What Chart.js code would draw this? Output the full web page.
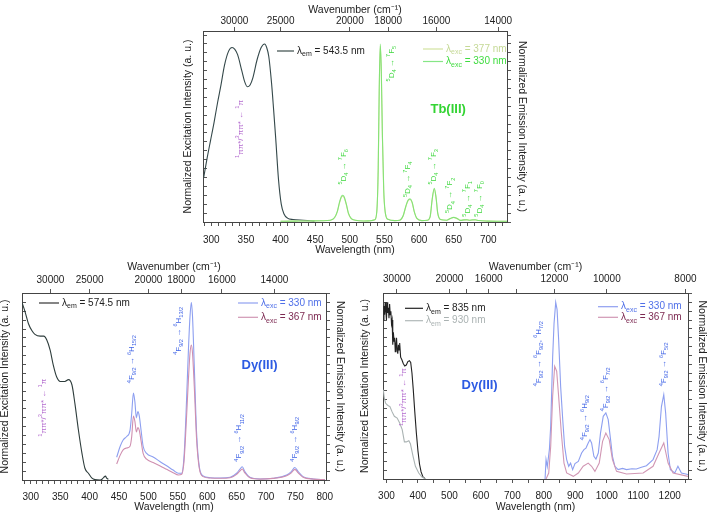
<!DOCTYPE html>
<html>
<head>
<meta charset="utf-8">
<title>Tb(III) / Dy(III) excitation and emission spectra</title>
<script src="https://cdn.jsdelivr.net/npm/chart.js@4.4.1/dist/chart.umd.min.js"></script>
<style>
  html, body { margin: 0; padding: 0; background: #fff; }
  body { position: relative; width: 709px; height: 517px; overflow: hidden; }
  canvas { position: absolute; }
</style>
</head>
<body>
<canvas id="tb-chart" width="360" height="262" style="left:176px;top:0px"></canvas>
<canvas id="dy-vis-chart" width="357" height="259" style="left:-2px;top:258px"></canvas>
<canvas id="dy-nir-chart" width="351" height="259" style="left:358px;top:258px"></canvas>
<script>
// ---------- Tb(III) panel ----------
const tbExcWl = [289, 294, 299, 304, 309, 314, 319, 325, 330, 334, 338, 344, 348, 352, 356, 360, 366, 372, 377, 380, 383, 387, 390, 393, 397, 401, 405, 410, 418, 433, 449]
const tbExc = [0.25, 0.36, 0.46, 0.56, 0.67, 0.77, 0.88, 0.96, 0.98, 0.97, 0.94, 0.85, 0.79, 0.76, 0.77, 0.81, 0.91, 0.98, 1.0, 0.98, 0.93, 0.78, 0.63, 0.47, 0.24, 0.1, 0.045, 0.022, 0.014, 0.01, 0.005]

const tbEmWl = [400, 420, 440, 460, 472, 478, 482, 485, 488, 490, 492, 495, 498, 502, 508, 520, 530, 536, 539, 541, 542.5, 544, 545.5, 547, 549, 551, 555, 565, 572, 577, 581, 584, 587, 590, 593, 597, 604, 612, 616, 619, 622, 624.5, 627, 631, 640, 645, 650, 655, 660, 665, 669, 673, 677, 681, 686, 700, 727]
const tbEm330 = [0.004, 0.005, 0.006, 0.007, 0.01, 0.025, 0.06, 0.11, 0.145, 0.15, 0.14, 0.1, 0.05, 0.02, 0.01, 0.006, 0.007, 0.012, 0.06, 0.3, 0.75, 1.0, 0.85, 0.5, 0.18, 0.06, 0.015, 0.008, 0.01, 0.035, 0.09, 0.122, 0.13, 0.112, 0.06, 0.02, 0.008, 0.01, 0.03, 0.13, 0.19, 0.14, 0.05, 0.014, 0.01, 0.02, 0.026, 0.02, 0.009, 0.012, 0.013, 0.01, 0.012, 0.013, 0.008, 0.005, 0.004]
const tbEm377 = [0.004, 0.005, 0.006, 0.007, 0.01, 0.024, 0.058, 0.105, 0.14, 0.145, 0.135, 0.097, 0.048, 0.019, 0.01, 0.006, 0.007, 0.012, 0.058, 0.29, 0.74, 0.99, 0.84, 0.49, 0.17, 0.058, 0.015, 0.008, 0.01, 0.034, 0.087, 0.118, 0.126, 0.108, 0.058, 0.019, 0.008, 0.01, 0.029, 0.126, 0.185, 0.136, 0.048, 0.014, 0.01, 0.019, 0.025, 0.019, 0.009, 0.012, 0.012, 0.01, 0.011, 0.012, 0.008, 0.005, 0.004]

const tbWlLabels = [300, 350, 400, 450, 500, 550, 600, 650, 700]
const tbWn = [30000, 25000, 20000, 18000, 16000, 14000]

// ---------- Dy(III) visible panel ----------
const dyVisExcWl = [285, 290, 296, 302, 307, 316, 322, 327, 333, 338, 344, 350, 358, 364, 370, 375, 381, 387, 392, 398, 404, 409, 418, 421, 424, 427, 429, 432]
const dyVisExc = [1.0, 0.95, 0.88, 0.84, 0.82, 0.81, 0.81, 0.79, 0.73, 0.65, 0.58, 0.555, 0.555, 0.565, 0.535, 0.43, 0.28, 0.15, 0.066, 0.038, 0.01, 0.002, 0.0, 0.004, 0.015, 0.022, 0.01, 0.004]

const dyVisEmWl = [446, 452, 457, 463, 468.7, 471.6, 474.5, 477, 479.5, 482, 484.5, 487.5, 491, 497, 508, 520, 531, 542, 551, 556.5, 560.5, 564, 568, 570.7, 573, 575, 578, 582, 586.5, 593, 605, 622, 639, 650, 656.7, 659.6, 664, 672.6, 690, 712, 735, 743, 749, 754.7, 763, 780, 800]
const dyVisEm330 = [0.128, 0.19, 0.225, 0.245, 0.28, 0.376, 0.49, 0.44, 0.35, 0.385, 0.36, 0.28, 0.19, 0.15, 0.13, 0.103, 0.08, 0.056, 0.038, 0.038, 0.13, 0.376, 0.73, 0.92, 1.0, 0.92, 0.64, 0.26, 0.075, 0.023, 0.013, 0.011, 0.015, 0.038, 0.066, 0.075, 0.047, 0.015, 0.006, 0.01, 0.028, 0.047, 0.07, 0.047, 0.019, 0.006, 0.002]
const dyVisEm367 = [0.09, 0.14, 0.17, 0.18, 0.19, 0.245, 0.36, 0.33, 0.27, 0.295, 0.28, 0.22, 0.15, 0.117, 0.098, 0.079, 0.06, 0.041, 0.028, 0.032, 0.103, 0.30, 0.564, 0.714, 0.76, 0.714, 0.526, 0.225, 0.066, 0.019, 0.011, 0.01, 0.013, 0.032, 0.055, 0.062, 0.04, 0.013, 0.005, 0.009, 0.024, 0.04, 0.06, 0.04, 0.016, 0.005, 0.002]

const dyVisWlLabels = [300, 350, 400, 450, 500, 550, 600, 650, 700, 750, 800]
const dyVisWn = [30000, 25000, 20000, 18000, 16000, 14000]

// ---------- Dy(III) NIR panel ----------
const nirExc835Wl = [290, 292, 294, 296, 298, 300, 302, 304, 306, 308, 310, 312, 314, 316, 318, 320, 322, 324, 326, 328, 330, 332, 334, 336, 338, 340, 342, 345, 349, 353, 358, 363, 368, 373, 377, 381, 385, 390, 395, 400, 405, 410, 416, 423]
const nirExc835 = [0.9, 0.98, 0.93, 1.0, 0.95, 0.9, 1.0, 0.94, 0.97, 0.91, 0.99, 0.93, 0.95, 0.88, 0.9, 0.76, 0.83, 0.78, 0.8, 0.72, 0.76, 0.8, 0.73, 0.71, 0.76, 0.73, 0.77, 0.69, 0.675, 0.655, 0.64, 0.645, 0.665, 0.67, 0.66, 0.6, 0.51, 0.38, 0.26, 0.16, 0.085, 0.04, 0.012, 0.002]
const nirExc930Wl = [290, 293, 297, 302, 306, 311, 318, 325, 334, 342, 350, 357, 363, 371, 376, 384.5, 392, 402.5, 413, 423.6]
const nirExc930 = [0.505, 0.46, 0.43, 0.42, 0.415, 0.41, 0.38, 0.355, 0.345, 0.317, 0.28, 0.21, 0.21, 0.217, 0.2, 0.128, 0.072, 0.034, 0.011, 0.002]

const nirEm330Wl = [803.9, 807, 811, 817.6, 821.8, 828, 832.4, 837.7, 842, 847, 853.5, 860, 866, 872.5, 879, 885, 891.5, 899, 909.5, 920, 927.4, 933.8, 941, 946.5, 951.7, 959, 965.5, 973, 980, 988.7, 997, 1004.5, 1012, 1018, 1025.7, 1036, 1050, 1062.7, 1080, 1094, 1110, 1126, 1147, 1160, 1166, 1173.6, 1181, 1187, 1194.7, 1202, 1216, 1226, 1237, 1258]
const nirEm330 = [0, 0.11, 0.07, 0.166, 0.3, 0.69, 0.88, 1.0, 0.96, 0.79, 0.52, 0.336, 0.185, 0.11, 0.072, 0.09, 0.053, 0.087, 0.1, 0.147, 0.166, 0.175, 0.204, 0.223, 0.204, 0.128, 0.113, 0.147, 0.26, 0.355, 0.374, 0.336, 0.223, 0.128, 0.072, 0.053, 0.06, 0.053, 0.058, 0.057, 0.066, 0.075, 0.11, 0.166, 0.24, 0.41, 0.477, 0.374, 0.147, 0.053, 0.034, 0.072, 0.034, 0.025]
const nirEm367Wl = [807, 815.5, 821.8, 828, 834.4, 840.8, 847, 855.6, 864, 872.5, 893.6, 909.5, 925, 941, 951.7, 962.3, 976, 986.6, 997, 1007.7, 1018, 1031, 1062.7, 1115.5, 1147, 1166, 1181, 1194.7, 1210.6, 1258]
const nirEm367 = [0, 0.034, 0.185, 0.468, 0.638, 0.61, 0.468, 0.26, 0.09, 0.034, 0.015, 0.034, 0.072, 0.09, 0.072, 0.043, 0.09, 0.213, 0.26, 0.223, 0.11, 0.043, 0.028, 0.034, 0.072, 0.147, 0.204, 0.09, 0.034, 0.015]

const nirWlLabels = [300, 400, 500, 600, 700, 800, 900, 1000, 1100, 1200]
const nirWn = [30000, 20000, 18000, 16000, 14000, 12000, 10000, 8000]
const nirWnLabels = [30000, 20000, 16000, 12000, 10000, 8000]

const FONT = '"Liberation Sans", Arial, Helvetica, sans-serif'
Chart.defaults.font.family = FONT

const range = (a, b, s) => {
  const r = []
  for (let v = a; v <= b + 1e-9; v += s) r.push(+v.toFixed(3))
  return r
}
const pts = (xs, ys) => xs.map((x, i) => ({ x: x, y: ys[i] }))

// Text drawn on each panel: transition labels, ion name and legends
const TRANS = "^{4}F_{9/2} → "
const panelText = {
  "tb-chart": {
    ox: 176, oy: 0, color: "#3fd83f",
    transitions: [
      { x: 491, y: 0.21, text: "^{5}D_{4} → ^{7}F_{6}" },
      { x: 560, y: 0.79, text: "^{5}D_{4} → ^{7}F_{5}" },
      { x: 584, y: 0.14, text: "^{5}D_{4} → ^{7}F_{4}" },
      { x: 621, y: 0.21, text: "^{5}D_{4} → ^{7}F_{3}" },
      { x: 645, y: 0.05, text: "^{5}D_{4} → ^{7}F_{2}" },
      { x: 670, y: 0.03, text: "^{5}D_{4} → ^{7}F_{1}" },
      { x: 687, y: 0.03, text: "^{5}D_{4} → ^{7}F_{0}" },
      { x: 342, y: 0.36, text: "^{1}ππ*/^{3}ππ* ← ^{1}π", color: "#b46ccf" },
    ],
    ion: { x: 642, y: 0.635, text: "Tb(III)", color: "#33d433" },
    legend: [
      { x1: 277, x2: 294, y: 51, line: "#3a4a48", text: "λ_{em} = 543.5 nm", color: "#222" },
      { x1: 423, x2: 443, y: 49, line: "#d2e3a0", text: "λ_{exc} = 377 nm", color: "#c5d996" },
      { x1: 423, x2: 443, y: 61.5, line: "#86e686", text: "λ_{exc} = 330 nm", color: "#3fdc3f" },
    ],
  },
  "dy-vis-chart": {
    ox: -2, oy: 258, color: "#3f63e6",
    transitions: [
      { x: 472, y: 0.545, text: TRANS + "^{6}H_{15/2}" },
      { x: 551, y: 0.705, text: TRANS + "^{6}H_{13/2}" },
      { x: 654.5, y: 0.103, text: TRANS + "^{6}H_{11/2}" },
      { x: 749, y: 0.103, text: TRANS + "^{6}H_{9/2}" },
      { x: 321.5, y: 0.244, text: "^{1}ππ*/^{3}ππ* ← ^{1}π", color: "#b46ccf" },
    ],
    ion: { x: 689, y: 0.643, text: "Dy(III)", color: "#2d5be3" },
    legend: [
      { x1: 39, x2: 59, y: 303, line: "#333", text: "λ_{em} = 574.5 nm", color: "#222" },
      { x1: 238, x2: 258, y: 303, line: "#8f9ff0", text: "λ_{exc} = 330 nm", color: "#4f6fe8" },
      { x1: 238, x2: 258, y: 317.3, line: "#d197b4", text: "λ_{exc} = 367 nm", color: "#7d2a52" },
    ],
  },
  "dy-nir-chart": {
    ox: 358, oy: 258, color: "#3f63e6",
    transitions: [
      { x: 783, y: 0.525, text: TRANS + "^{6}F_{9/2}, ^{6}H_{7/2}" },
      { x: 930.6, y: 0.22, text: TRANS + "^{6}H_{9/2}" },
      { x: 996, y: 0.383, text: TRANS + "^{6}F_{7/2}" },
      { x: 1181, y: 0.525, text: TRANS + "^{6}F_{5/2}" },
      { x: 355, y: 0.3, text: "^{1}ππ*/^{3}ππ* ← ^{1}π", color: "#b46ccf" },
    ],
    ion: { x: 596, y: 0.53, text: "Dy(III)", color: "#2d5be3" },
    legend: [
      { x1: 405, x2: 423, y: 308.3, line: "#222", text: "λ_{em} = 835 nm", color: "#222" },
      { x1: 405, x2: 423, y: 320.7, line: "#b0b8b8", text: "λ_{em} = 930 nm", color: "#aab2b2" },
      { x1: 598, x2: 618, y: 306.7, line: "#8f9ff0", text: "λ_{exc} = 330 nm", color: "#4f6fe8" },
      { x1: 598, x2: 618, y: 317.3, line: "#d197b4", text: "λ_{exc} = 367 nm", color: "#7d2a52" },
    ],
  },
}

// "^{5}D_{4}" style markup -> [text, shift] parts (1 = superscript, -1 = subscript)
function parseRich(s) {
  const out = []
  const re = /([\^_])\{([^}]*)\}|([^\^_]+)/g
  let m
  while ((m = re.exec(s))) {
    if (m[3] !== undefined) out.push([m[3], 0])
    else out.push([m[2], m[1] === "^" ? 1 : -1])
  }
  return out
}

function drawRich(ctx, s, x, y, size, color, weight, align) {
  const parts = parseRich(s)
  const fontFor = (k) => `${weight} ${k ? size * 0.7 : size}px ${FONT}`
  let w = 0
  parts.forEach((p) => {
    ctx.font = fontFor(p[1])
    w += ctx.measureText(p[0]).width
  })
  let cx = align === "center" ? x - w / 2 : x
  ctx.fillStyle = color
  ctx.textAlign = "left"
  ctx.textBaseline = "middle"
  parts.forEach((p) => {
    ctx.font = fontFor(p[1])
    ctx.fillText(p[0], cx, y - p[1] * size * 0.35)
    cx += ctx.measureText(p[0]).width
  })
}

const textPlugin = {
  id: "panelText",
  afterDatasetsDraw(chart) {
    const cfg = panelText[chart.canvas.id]
    const ctx = chart.ctx
    const xs = chart.scales.x
    const ys = chart.scales.y
    ctx.save()
    cfg.transitions.forEach((t) => {
      ctx.save()
      ctx.translate(xs.getPixelForValue(t.x), ys.getPixelForValue(t.y))
      ctx.rotate(-Math.PI / 2)
      drawRich(ctx, t.text, 0, 0, 8, t.color || cfg.color, "normal", "left")
      ctx.restore()
    })
    drawRich(ctx, cfg.ion.text, xs.getPixelForValue(cfg.ion.x), ys.getPixelForValue(cfg.ion.y), 13, cfg.ion.color, "bold", "center")
    cfg.legend.forEach((l) => {
      const y = l.y - cfg.oy
      ctx.strokeStyle = l.line
      ctx.lineWidth = 1.2
      ctx.beginPath()
      ctx.moveTo(l.x1 - cfg.ox, y)
      ctx.lineTo(l.x2 - cfg.ox, y)
      ctx.stroke()
      drawRich(ctx, l.text, l.x2 - cfg.ox + 3, y, 10, l.color, "normal", "left")
    })
    ctx.restore()
  },
}

const tickFont = { size: 10, family: FONT }
const titleFont = { size: 10.5, family: FONT }
const axisGrid = { drawOnChartArea: false, tickLength: 4, color: "#555" }
const axisBorder = { color: "#444" }

function yAxis(o, side) {
  return {
    type: "linear",
    position: side,
    min: o.yMin,
    max: o.yMax,
    afterBuildTicks: (s) => { s.ticks = range(0, 1.05, 0.05).map((v) => ({ value: v })) },
    afterFit: (s) => { s.width = side === "left" ? o.box.left : o.box.right },
    ticks: { display: false },
    // left axis ticks point into the plot, right axis ticks point out
    grid: { drawOnChartArea: false, tickLength: side === "left" ? -4 : 4, color: "#555" },
    border: axisBorder,
    title: {
      display: true,
      text: side === "left" ? "Normalized Excitation Intensity (a. u.)" : "Normalized Emission Intensity (a. u.)",
      font: titleFont,
      color: "#222",
      padding: { top: side === "left" ? o.pad.leftTitle : o.pad.rightTitle, bottom: 0 },
    },
  }
}

function spectrumChart(id, o) {
  return new Chart(document.getElementById(id), {
    type: "line",
    data: { datasets: o.datasets },
    plugins: [textPlugin],
    options: {
      responsive: false,
      animation: false,
      events: [],
      layout: { padding: 0 },
      elements: { point: { radius: 0 }, line: { borderWidth: 1.1 } },
      plugins: { legend: { display: false }, tooltip: { enabled: false } },
      scales: {
        x: {
          type: "linear",
          position: "bottom",
          min: o.xMin,
          max: o.xMax,
          afterBuildTicks: (s) => { s.ticks = o.xTicks.map((v) => ({ value: v })) },
          afterFit: (s) => { s.height = o.box.bottom },
          ticks: {
            autoSkip: false, maxRotation: 0, padding: o.pad.bottomTicks, font: tickFont, color: "#222",
            callback: (v) => (o.xLabels.includes(v) ? String(v) : ""),
          },
          grid: axisGrid,
          border: axisBorder,
          title: { display: true, text: "Wavelength (nm)", font: titleFont, color: "#222", padding: { top: 0, bottom: o.pad.bottomTitle } },
        },
        x2: {
          type: "linear",
          axis: "x",
          position: "top",
          min: o.xMin,
          max: o.xMax,
          afterBuildTicks: (s) => { s.ticks = o.wn.map((n) => ({ value: 1e7 / n })) },
          afterFit: (s) => { s.height = o.box.top },
          ticks: {
            autoSkip: false, maxRotation: 0, padding: o.pad.topTicks, font: tickFont, color: "#222",
            callback: (v) => {
              const n = Math.round(1e7 / v)
              return o.wnLabels.includes(n) ? String(n) : ""
            },
          },
          grid: axisGrid,
          border: axisBorder,
          title: { display: true, text: "Wavenumber (cm⁻¹)", font: titleFont, color: "#222", padding: { top: o.pad.topTitle, bottom: 0 } },
        },
        y: yAxis(o, "left"),
        y2: yAxis(o, "right"),
      },
    },
  })
}

function line(label, xs, ys, color, smooth) {
  return {
    label: label,
    data: pts(xs, ys),
    xAxisID: "x",
    yAxisID: "y",
    borderColor: color,
    fill: false,
    tension: 0,
    cubicInterpolationMode: smooth ? "monotone" : "default",
  }
}

document.addEventListener("DOMContentLoaded", () => {
  // Tb(III): excitation + emission
  spectrumChart("tb-chart", {
    xMin: 288, xMax: 727, yMin: 0, yMax: 1.073,
    xTicks: range(290, 720, 10), xLabels: tbWlLabels,
    wn: tbWn, wnLabels: tbWn,
    box: { left: 27, right: 29, top: 31, bottom: 40 },
    pad: { leftTitle: 6, rightTitle: 8, topTitle: 4, bottomTitle: 6, topTicks: 0, bottomTicks: 8 },
    datasets: [
      line("λexc = 330 nm", tbEmWl, tbEm330, "rgba(120, 226, 110, 0.85)", true),
      line("λexc = 377 nm", tbEmWl, tbEm377, "#cfe29a", true),
      line("λem = 543.5 nm", tbExcWl, tbExc, "#34484a", true),
    ],
  })

  // Dy(III): visible emission
  spectrumChart("dy-vis-chart", {
    xMin: 285, xMax: 802, yMin: 0, yMax: 1.053,
    xTicks: range(290, 800, 10), xLabels: dyVisWlLabels,
    wn: dyVisWn, wnLabels: dyVisWn,
    box: { left: 24, right: 29, top: 35, bottom: 37 },
    pad: { leftTitle: 1, rightTitle: 9, topTitle: 2.4, bottomTitle: 4, topTicks: 3, bottomTicks: 7 },
    datasets: [
      line("λexc = 367 nm", dyVisEmWl, dyVisEm367, "#cf8fb0", true),
      line("λexc = 330 nm", dyVisEmWl, dyVisEm330, "#8d9ff0", true),
      line("λem = 574.5 nm", dyVisExcWl, dyVisExc, "#2e3d3c", true),
    ],
  })

  // Dy(III): NIR emission
  spectrumChart("dy-nir-chart", {
    xMin: 289, xMax: 1258, yMin: 0, yMax: 1.053,
    xTicks: range(300, 1250, 50), xLabels: nirWlLabels,
    wn: nirWn, wnLabels: nirWnLabels,
    box: { left: 25, right: 21, top: 35, bottom: 38 },
    pad: { leftTitle: 1, rightTitle: 1, topTitle: 2.4, bottomTitle: 4, topTicks: 4, bottomTicks: 7 },
    datasets: [
      line("λexc = 367 nm", nirEm367Wl, nirEm367, "#d197b4", false),
      line("λexc = 330 nm", nirEm330Wl, nirEm330, "#8d9ff0", false),
      line("λem = 930 nm", nirExc930Wl, nirExc930, "#aab3b3", false),
      line("λem = 835 nm", nirExc835Wl, nirExc835, "#222", false),
    ],
  })
})
</script>
</body>
</html>
